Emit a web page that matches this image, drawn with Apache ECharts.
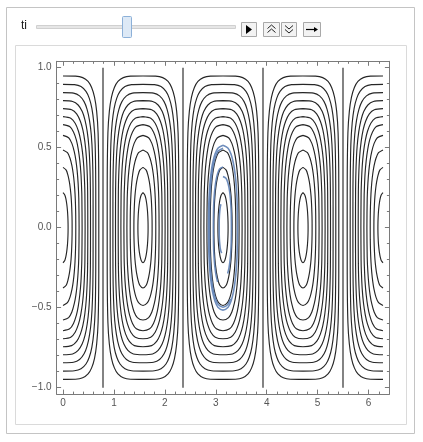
<!DOCTYPE html>
<html><head><meta charset="utf-8">
<script src="https://cdn.jsdelivr.net/npm/echarts@6/dist/echarts.min.js"></script>
<style>html,body{margin:0;padding:0;background:#fff}#c{width:423px;height:442px}</style>
</head><body><div id="c"></div>
<script>
// ---- data ----
const sliderLabel = 'ti';
const cellCenters = [0, 1.5708, 3.1416, 4.7124, 6.2832];
const separatrixX = [0.7854, 2.3562, 3.9270, 5.4978];
const separatrixSpan = [-1, 1];
// upper-left quadrant profile of each closed contour: [distance from cell centre, y], top -> equator
const contourC1 = [[0,.948],[.246,.947],[.387,.938],[.492,.914],[.562,.876],[.619,.816],[.661,.727],[.689,.593],[.7026,.284],[.703,0]];
const contourC2 = [[0,.896],[.225,.894],[.354,.882],[.451,.852],[.515,.81],[.567,.746],[.605,.654],[.631,.521],[.643,.269],[.644,0]];
const contourC3 = [[0,.844],[.207,.841],[.325,.824],[.414,.788],[.473,.74],[.52,.671],[.556,.578],[.579,.445],[.59,.253],[.591,0]];
const contourC4 = [[0,.794],[.189,.789],[.297,.767],[.378,.726],[.432,.673],[.475,.602],[.508,.508],[.529,.379],[.538,.238],[.54,0]];
const contourC5 = [[0,.744],[.17,.737],[.268,.711],[.341,.665],[.39,.611],[.429,.538],[.458,.446],[.477,.324],[.484,.223],[.487,0]];
const contourC6 = [[0,.694],[.152,.684],[.239,.653],[.304,.603],[.347,.546],[.382,.474],[.408,.384],[.425,.27],[.43,.208],[.434,0]];
const contourC7 = [[0,.644],[.131,.632],[.206,.598],[.263,.547],[.3,.49],[.33,.419],[.353,.334],[.3675,.229],[.3704,.193],[.375,0]];
const contourC8 = [[0,.577],[.111,.562],[.174,.527],[.221,.475],[.253,.421],[.278,.355],[.297,.277],[.31,.184],[.316,0]];
const contourC9 = [[0,.486],[.088,.469],[.138,.434],[.176,.386],[.201,.337],[.221,.279],[.236,.213],[.246,.136],[.2499,.073],[.251,0]];
const contourC10 = [[0,.377],[.063,.36],[.098,.327],[.125,.286],[.143,.245],[.158,.199],[.168,.148],[.175,.091],[.1782,.045],[.179,0]];
const contourC11 = [[0,.219],[.035,.205],[.055,.183],[.07,.156],[.08,.131],[.088,.104],[.094,.075],[.098,.044],[.0995,.022],[.1,0]];
const contourProfiles = [contourC1, contourC2, contourC3, contourC4, contourC5, contourC6, contourC7, contourC8, contourC9, contourC10, contourC11];
// blue trajectories in the middle cell: quadrant profile + which part of the loop is drawn
// (loop runs top -> left side -> bottom -> right side -> top, 33 points)
const blueCentre = 3.1416;
const blueB1 = [[0,.515],[.1,.497],[.157,.46],[.2,.409],[.228,.357],[.251,.296],[.268,.226],[.279,.144],[.285,0]];
const blueB2 = [[0,.497],[.094,.48],[.147,.444],[.188,.395],[.214,.344],[.236,.285],[.252,.218],[.263,.139],[.268,0]];
const blueB3 = [[0,.38],[.067,.367],[.105,.339],[.133,.302],[.152,.263],[.167,.218],[.179,.166],[.186,.106],[.19,0]];
const blueB4 = [[0,.32],[.058,.309],[.091,.286],[.116,.254],[.132,.222],[.145,.184],[.155,.14],[.162,.09],[.165,0]];
const blueB5 = [[0,.165],[.026,.159],[.041,.147],[.053,.131],[.06,.114],[.066,.095],[.071,.072],[.074,.046],[.075,0]];
const blueProfiles = [blueB1, blueB2, blueB3, blueB4, blueB5];
const blueRanges = [[0,32],[0,18],[0,14],[18,32],[2,15]];
const xTicks = [0,1,2,3,4,5,6];
const xTickLabels = ['0','1','2','3','4','5','6'];
const xMinorTicks = [0.2,0.4,0.6,0.8,1.2,1.4,1.6,1.8,2.2,2.4,2.6,2.8,3.2,3.4,3.6,3.8,4.2,4.4,4.6,4.8,5.2,5.4,5.6,5.8,6.2,6.4];
const yTicks = [-1,-0.5,0,0.5,1];
const yTickLabels = ['\u22121.0','\u22120.5','0.0','0.5','1.0'];
const yMinorTicks = [-0.9,-0.8,-0.7,-0.6,-0.4,-0.3,-0.2,-0.1,0.1,0.2,0.3,0.4,0.6,0.7,0.8,0.9];
const xRange = [-0.1257, 6.4089];
const yRange = [-1.04, 1.04];

// ---- build ----
function curve(profile, c, side) {
  const ul = profile.map(p => [c - p[0], p[1]]);
  const ll = profile.slice(0, -1).reverse().map(p => [c - p[0], -p[1]]);
  const lr = profile.slice(1).map(p => [c + p[0], -p[1]]);
  const ur = profile.slice(0, -1).reverse().map(p => [c + p[0], p[1]]);
  if (side === 'right') return profile.map(p => [c + p[0], p[1]]).concat(profile.slice(0, -1).reverse().map(p => [c + p[0], -p[1]]));
  if (side === 'left') return ul.concat(ll);
  return ul.concat(ll, lr, ur);
}
const series = [];
cellCenters.forEach((c, i) => {
  const side = i === 0 ? 'right' : (i === cellCenters.length - 1 ? 'left' : 'both');
  contourProfiles.forEach(p => {
    series.push({type:'line', data: curve(p, c, side), smooth: 0.25, symbol:'none', silent:true,
      lineStyle:{color:'#262626', width:1.15}, z:2});
  });
});
separatrixX.forEach(x => {
  series.push({type:'line', data: separatrixSpan.map(y => [x, y]), symbol:'none', silent:true,
    lineStyle:{color:'#5a5a5a', width:1.5}, z:2});
});
blueProfiles.forEach((p, i) => {
  const loop = curve(p, blueCentre, 'both');
  const r = blueRanges[i];
  series.push({type:'line', data: loop.slice(r[0], r[1] + 1), smooth: 0.25, symbol:'none', silent:true,
    lineStyle:{color:'#5e81b5', width:1.6, opacity:0.9}, z:3});
});

const frameColor = '#7a7a7a';
const labelStyle = {color:'#555', fontSize:10, fontFamily:'Liberation Sans, Arial, sans-serif'};
function xAx(pos, minor, labels) {
  return {type:'value', position:pos, min:xRange[0], max:xRange[1], splitLine:{show:false},
    axisLine:{show:!minor, onZero:false, lineStyle:{color:frameColor, width:1}},
    axisTick:{show:true, inside:true, length: minor ? 2.5 : 4.5, customValues: minor ? xMinorTicks : xTicks, lineStyle:{color:frameColor}},
    axisLabel: labels ? Object.assign({show:true, margin:4, customValues:xTicks, formatter: v => xTickLabels[xTicks.indexOf(Math.round(v))] || ''}, labelStyle) : {show:false}};
}
function yAx(pos, minor, labels) {
  return {type:'value', position:pos, min:yRange[0], max:yRange[1], splitLine:{show:false},
    axisLine:{show:!minor, onZero:false, lineStyle:{color:frameColor, width:1}},
    axisTick:{show:true, inside:true, length: minor ? 2.5 : 4.5, customValues: minor ? yMinorTicks : yTicks, lineStyle:{color:frameColor}},
    axisLabel: labels ? Object.assign({show:true, margin:5, customValues:yTicks, formatter: v => { const k = yTicks.findIndex(t => Math.abs(t - v) < 1e-6); return k >= 0 ? yTickLabels[k] : ''; }}, labelStyle) : {show:false}};
}

const btnStroke = '#a9a9a9', btnFill = '#f3f3f3';
const graphic = [
  {type:'rect', z:-10, shape:{x:6.5, y:7.5, width:408, height:426}, style:{fill:'#ffffff', stroke:'#c4c4c4', lineWidth:1}},
  {type:'rect', z:-9, shape:{x:15.5, y:45.5, width:391, height:379}, style:{fill:'#ffffff', stroke:'#dadada', lineWidth:1}},
  {type:'text', x:21, y:26, style:{text:sliderLabel, fill:'#1a1a1a', font:'12px "Liberation Sans", Arial, sans-serif', textVerticalAlign:'middle'}},
  {type:'rect', shape:{x:36.5, y:25.5, width:199, height:3}, style:{fill:'#e6e6e6', stroke:'#d0d0d0', lineWidth:1}},
  {type:'rect', shape:{x:122.5, y:16.5, width:9, height:21, r:1}, style:{fill:'#dde9f6', stroke:'#8cb0d8', lineWidth:1}},
  {type:'rect', shape:{x:241.5, y:22.5, width:15, height:14}, style:{fill:btnFill, stroke:btnStroke, lineWidth:1}},
  {type:'polygon', shape:{points:[[246,25],[246,34],[252,29.5]]}, style:{fill:'#000'}},
  {type:'rect', shape:{x:263.5, y:22.5, width:16, height:14}, style:{fill:btnFill, stroke:btnStroke, lineWidth:1}},
  {type:'polyline', shape:{points:[[267.5,28.5],[271.5,25],[275.5,28.5]]}, style:{stroke:'#222', lineWidth:1, fill:null}},
  {type:'polyline', shape:{points:[[267.5,32.5],[271.5,29],[275.5,32.5]]}, style:{stroke:'#222', lineWidth:1, fill:null}},
  {type:'rect', shape:{x:281.5, y:22.5, width:15, height:14}, style:{fill:btnFill, stroke:btnStroke, lineWidth:1}},
  {type:'polyline', shape:{points:[[285,25.5],[289,29],[293,25.5]]}, style:{stroke:'#222', lineWidth:1, fill:null}},
  {type:'polyline', shape:{points:[[285,29.5],[289,33],[293,29.5]]}, style:{stroke:'#222', lineWidth:1, fill:null}},
  {type:'rect', shape:{x:303.5, y:22.5, width:17, height:14}, style:{fill:btnFill, stroke:btnStroke, lineWidth:1}},
  {type:'line', shape:{x1:306, y1:29.5, x2:315, y2:29.5}, style:{stroke:'#000', lineWidth:1.2}},
  {type:'polygon', shape:{points:[[314,27],[318,29.5],[314,32]]}, style:{fill:'#000'}}
];

const chart = echarts.init(document.getElementById('c'), null, {renderer:'canvas'});
chart.setOption({
  animation:false,
  backgroundColor:'#ffffff',
  grid:{left:56.6, top:61.3, width:332.8, height:332.8, containLabel:false},
  xAxis:[xAx('bottom', false, true), xAx('bottom', true, false), xAx('top', false, false), xAx('top', true, false)],
  yAxis:[yAx('left', false, true), yAx('left', true, false), yAx('right', false, false), yAx('right', true, false)],
  graphic: graphic,
  series: series.map(s => Object.assign({xAxisIndex:0, yAxisIndex:0}, s))
});
</script></body></html>
